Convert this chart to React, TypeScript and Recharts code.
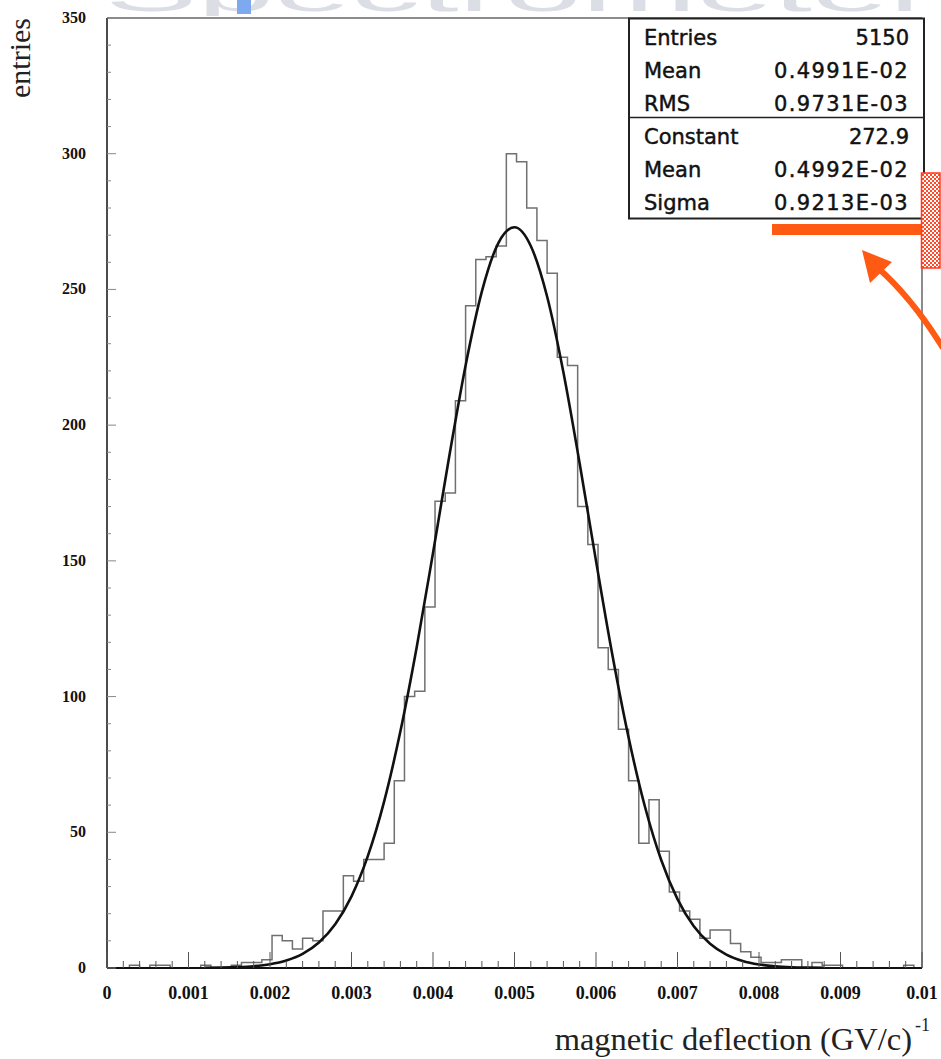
import React from "react";
import { ComposedChart, Line, XAxis, YAxis, ReferenceLine } from "recharts";

// histogram binning (~80 bins, 0.000125 wide)
const binWidth = 0.000125;
const firstEdge = 0.000025;
const binCounts = [
  0, 0, 1, 0, 1, 1, 0, 0, 0, 1, 0, 0, 1, 2, 2, 3,
  12, 10, 7, 11, 10,
  21, 21, 34, 32, 40, 40, 46, 69,
  100, 102, 133, 172, 175, 209, 244,
  261, 262, 266, 300, 297, 280, 268,
  256, 225, 222, 170, 156, 118, 110,
  88, 69, 46, 62, 43, 28, 21, 18, 11, 14, 14,
  9, 6, 4, 2, 2, 3, 3, 0, 2, 1, 1, 0, 0, 0, 0, 0, 0, 1,
];

// gaussian fit curve, sampled
const fitX = [
  0.0012, 0.0014, 0.0016, 0.0018, 0.002, 0.0022, 0.0024, 0.0026, 0.0028, 0.003,
  0.0032, 0.0034, 0.0036, 0.0038, 0.004, 0.0042, 0.0044, 0.0046, 0.0048, 0.005,
  0.0052, 0.0054, 0.0056, 0.0058, 0.006, 0.0062, 0.0064, 0.0066, 0.0068, 0.007,
  0.0072, 0.0074, 0.0076, 0.0078, 0.008, 0.0082, 0.0084, 0.0086, 0.0088,
];
const fitY = [
  0.06, 0.14, 0.31, 0.67, 1.4, 2.77, 5.21, 9.38, 16.1, 26.4,
  41.2, 61.3, 87.2, 118.2, 152.9, 188.6, 222.0, 249.3, 267.0, 272.9,
  266.0, 247.4, 219.5, 185.8, 150.0, 115.5, 84.9, 59.5, 39.8, 25.4,
  15.4, 8.97, 4.96, 2.62, 1.32, 0.64, 0.29, 0.13, 0.05,
];

const xMajorTicks = [0, 0.001, 0.002, 0.003, 0.004, 0.005, 0.006, 0.007, 0.008, 0.009, 0.01];
const xTickLabels = ["0", "0.001", "0.002", "0.003", "0.004", "0.005", "0.006", "0.007", "0.008", "0.009", "0.01"];
const yMajorTicks = [0, 50, 100, 150, 200, 250, 300, 350];

const statsTop = [
  ["Entries", "5150"],
  ["Mean", "0.4991E-02"],
  ["RMS", "0.9731E-03"],
];
const statsFit = [
  ["Constant", "272.9"],
  ["Mean", "0.4992E-02"],
  ["Sigma", "0.9213E-03"],
];

const histData = binCounts.map((c, k) => ({ x: +(firstEdge + k * binWidth).toFixed(7), y: c }));
histData.push({ x: +(firstEdge + binCounts.length * binWidth).toFixed(7), y: 0 });

const fitData = fitX.map((x, i) => ({ x, y: fitY[i] }));

// minor ticks: 5 per major on x, 5 per major on y
const xTicks: number[] = [];
for (let i = 0; i < xMajorTicks.length - 1; i++) {
  for (let j = 0; j < 5; j++) xTicks.push(+(xMajorTicks[i] + j * 0.0002).toFixed(6));
}
xTicks.push(0.01);
const yTicks: number[] = [];
for (let i = 0; i < yMajorTicks.length - 1; i++) {
  for (let j = 0; j < 5; j++) yTicks.push(yMajorTicks[i] + j * 10);
}
yTicks.push(350);

const serif = "'Liberation Serif', 'DejaVu Serif', serif";
const sans = "'DejaVu Sans', 'Liberation Sans', sans-serif";
const axisX = 107; // left edge of the plot frame

function XTick(props: any) {
  const { x, y, payload } = props;
  const r = payload.value / 0.001;
  const idx = Math.round(r);
  const major = Math.abs(r - idx) < 1e-6;
  return (
    <g>
      <line x1={x} x2={x} y1={y} y2={y - (major ? 16 : 7)} stroke="#555" strokeWidth={1} />
      {major && (
        <text x={x} y={y + 31} textAnchor="middle" fontFamily={serif} fontWeight="bold" fontSize={18} fill="#111">
          {xTickLabels[idx]}
        </text>
      )}
    </g>
  );
}

function YTick(props: any) {
  const { y, payload } = props;
  const major = payload.value % 50 === 0;
  return (
    <g>
      <line x1={axisX} x2={axisX + (major ? 9 : 4)} y1={y} y2={y} stroke="#888" strokeWidth={1} />
      {major && (
        <text x={86} y={y + 5} textAnchor="end" fontFamily={serif} fontWeight="bold" fontSize={16} fill="#111">
          {payload.value}
        </text>
      )}
    </g>
  );
}

export default function App() {
  return (
    <div style={{ position: "absolute", left: 0, top: 0, width: 941, height: 1059, background: "#fff" }}>
      <ComposedChart width={941} height={1059} margin={{ top: 18, right: 19, left: 0, bottom: 0 }}>
        <XAxis
          type="number"
          dataKey="x"
          domain={[0, 0.01]}
          allowDataOverflow
          ticks={xTicks}
          interval={0}
          height={91}
          tickSize={0}
          tickMargin={0}
          tickLine={false}
          axisLine={{ stroke: "#111", strokeWidth: 2 }}
          tick={(p: any) => <XTick {...p} />}
        />
        <YAxis
          type="number"
          dataKey="y"
          domain={[0, 350]}
          allowDataOverflow
          ticks={yTicks}
          interval={0}
          width={107}
          tickSize={0}
          tickMargin={0}
          tickLine={false}
          axisLine={{ stroke: "#111", strokeWidth: 1.5 }}
          tick={(p: any) => <YTick {...p} />}
        />
        <ReferenceLine y={350} stroke="#666" strokeWidth={1.5} />
        <ReferenceLine x={0.01} stroke="#666" strokeWidth={1.5} />
        <Line
          data={histData}
          dataKey="y"
          type="stepAfter"
          stroke="#707070"
          strokeWidth={1.5}
          dot={false}
          isAnimationActive={false}
        />
        <Line
          data={fitData}
          dataKey="y"
          type="monotone"
          stroke="#111"
          strokeWidth={2.6}
          dot={false}
          isAnimationActive={false}
        />
      </ComposedChart>

      <svg
        width={941}
        height={1059}
        style={{ position: "absolute", left: 0, top: 0, pointerEvents: "none", overflow: "hidden" }}
      >
        <defs>
          <pattern id="checks" width="4" height="4" patternUnits="userSpaceOnUse">
            <rect width="4" height="4" fill="#fff" />
            <rect width="2" height="2" fill="#ff4a2a" />
            <rect x="2" y="2" width="2" height="2" fill="#ff4a2a" />
          </pattern>
        </defs>

        {/* slide title remnant, only its lower edge shows */}
        <svg x={0} y={0} width={941} height={16} overflow="hidden">
          <text
            x={105}
            y={11}
            fontFamily="'Liberation Sans', sans-serif"
            fontSize={54}
            textLength={830}
            lengthAdjust="spacingAndGlyphs"
            fill="#dcdee5"
          >
            Spectrometer
          </text>
          <rect x={237} y={0} width={14} height={14} fill="#7fa9ee" />
        </svg>

        {/* stats box */}
        <rect x={629} y={18.5} width={295} height={200} fill="#fff" stroke="#222" strokeWidth={2} />
        <line x1={629} x2={924} y1={117.5} y2={117.5} stroke="#222" strokeWidth={1.5} />
        {[statsTop, statsFit].map((rows, s) =>
          rows.map(([k, v], i) => (
            <g key={s + "-" + i}>
              <text x={644} y={45 + s * 99 + i * 33} fontFamily={sans} fontSize={21} fill="#111" stroke="#111" strokeWidth={0.45}>
                {k}
              </text>
              <text
                x={909}
                y={45 + s * 99 + i * 33}
                fontFamily={sans}
                fontSize={21}
                fill="#111"
                stroke="#111"
                strokeWidth={0.45}
                textAnchor="end"
                letterSpacing={v.includes("E") ? 1.4 : 0}
              >
                {v}
              </text>
            </g>
          ))
        )}

        {/* slide annotation */}
        <rect x={772} y={224} width={149} height={11} fill="#ff5a14" />
        <rect x={921.5} y={173} width={18.5} height={95} fill="url(#checks)" stroke="#ff3b1f" strokeWidth={1.5} />
        <path d="M 943 348 Q 912 298 878 268" fill="none" stroke="#ff5a14" strokeWidth={6} />
        <polygon points="862,250 892,262 870,283" fill="#ff5a14" />

        {/* axis titles */}
        <text transform="translate(30, 58) rotate(-90)" textAnchor="middle" fontFamily={serif} fontSize={30} fill="#222">
          entries
        </text>
        <text x={912} y={1050} textAnchor="end" fontFamily={serif} fontSize={32.5} fill="#222">
          magnetic deflection (GV/c)
        </text>
        <text x={915} y={1031} fontFamily={serif} fontSize={18} fill="#222">-1</text>
      </svg>
    </div>
  );
}
